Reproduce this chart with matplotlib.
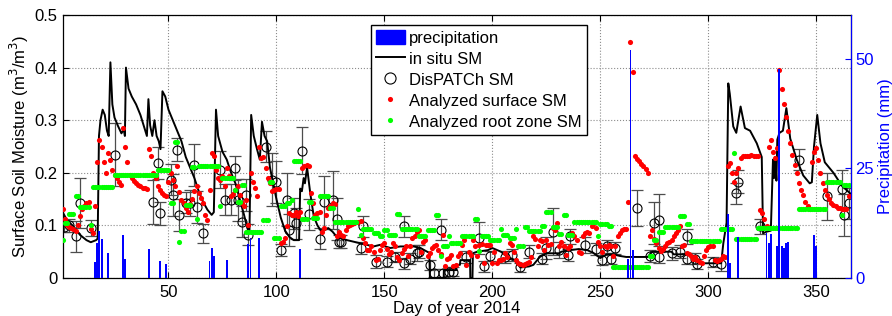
import numpy as np
import matplotlib
matplotlib.use('Agg')
import matplotlib.pyplot as plt
from matplotlib.patches import Patch
from matplotlib.lines import Line2D

plt.rcParams['font.family'] = ['Liberation Sans', 'DejaVu Sans']

# ---------------- data ----------------
days = np.arange(1, 366)

surface_sm = [
    0.131, 0.112, 0.100, 0.097, 0.095, 0.093, 0.090, 0.100, 0.118, 0.132,
    0.137, 0.142, 0.145, 0.094, 0.086, 0.136, 0.220, 0.263, 0.250, 0.220,
    0.200, 0.237, 0.225, 0.205, 0.196, 0.190, 0.183, 0.177, 0.285, 0.250,
    0.220, 0.196, 0.190, 0.185, 0.180, 0.177, 0.174, 0.172, 0.171, 0.170,
    0.245, 0.231, 0.200, 0.190, 0.174, 0.167, 0.162, 0.158, 0.155, 0.183,
    0.200, 0.187, 0.175, 0.212, 0.164, 0.149, 0.142, 0.133, 0.126, 0.140,
    0.150, 0.165, 0.174, 0.161, 0.152, 0.142, 0.120, 0.110, 0.168, 0.237,
    0.231, 0.206, 0.190, 0.187, 0.193, 0.174, 0.209, 0.193, 0.155, 0.160,
    0.168, 0.174, 0.158, 0.142, 0.136, 0.149, 0.100, 0.200, 0.183, 0.171,
    0.155, 0.250, 0.228, 0.230, 0.209, 0.190, 0.180, 0.165, 0.168, 0.169,
    0.170, 0.066, 0.069, 0.076, 0.098, 0.123, 0.120, 0.120, 0.126, 0.117,
    0.125, 0.209, 0.212, 0.215, 0.212, 0.161, 0.142, 0.120, 0.123, 0.126,
    0.088, 0.095, 0.120, 0.133, 0.137, 0.142, 0.140, 0.079, 0.088, 0.082,
    0.079, 0.091, 0.098, 0.100, 0.102, 0.104, 0.106, 0.107, 0.108, 0.076,
    0.066, 0.053, 0.053, 0.060, 0.050, 0.034, 0.037, 0.053, 0.063, 0.066,
    0.055, 0.045, 0.050, 0.066, 0.060, 0.040, 0.035, 0.048, 0.055, 0.060,
    0.041, 0.060, 0.076, 0.080, 0.088, 0.091, 0.050, 0.069, 0.072, 0.041,
    0.047, 0.057, 0.060, 0.063, 0.053, 0.045, 0.082, 0.022, 0.037, 0.038,
    0.044, 0.022, 0.024, 0.041, 0.047, 0.063, 0.072, 0.025, 0.050, 0.044,
    0.072, 0.060, 0.041, 0.063, 0.065, 0.028, 0.063, 0.062, 0.063, 0.028,
    0.050, 0.028, 0.035, 0.034, 0.037, 0.047, 0.040, 0.066, 0.063, 0.050,
    0.034, 0.028, 0.027, 0.025, 0.027, 0.028, 0.031, 0.040, 0.079, 0.075,
    0.060, 0.072, 0.070, 0.053, 0.072, 0.063, 0.065, 0.095, 0.091, 0.104,
    0.060, 0.069, 0.060, 0.044, 0.057, 0.060, 0.085, 0.079, 0.072, 0.050,
    0.048, 0.079, 0.085, 0.087, 0.085, 0.098, 0.104, 0.095, 0.069, 0.060,
    0.050, 0.060, 0.058, 0.063, 0.060, 0.041, 0.060, 0.079, 0.085, 0.091,
    0.093, 0.094, 0.145, 0.448, 0.391, 0.231, 0.226, 0.222, 0.217, 0.212,
    0.207, 0.200, 0.080, 0.091, 0.075, 0.066, 0.057, 0.052, 0.055, 0.060,
    0.066, 0.069, 0.072, 0.079, 0.085, 0.091, 0.098, 0.060, 0.063, 0.047,
    0.045, 0.041, 0.036, 0.040, 0.034, 0.030, 0.028, 0.041, 0.053, 0.058,
    0.060, 0.060, 0.034, 0.032, 0.034, 0.036, 0.041, 0.040, 0.212, 0.218,
    0.200, 0.183, 0.200, 0.209, 0.228, 0.231, 0.232, 0.232, 0.232, 0.233,
    0.232, 0.232, 0.231, 0.130, 0.123, 0.112, 0.098, 0.250, 0.263, 0.240,
    0.228, 0.247, 0.396, 0.360, 0.330, 0.307, 0.279, 0.256, 0.234, 0.215,
    0.200, 0.180, 0.168, 0.158, 0.145, 0.136, 0.132, 0.220, 0.240, 0.247,
    0.225, 0.200, 0.180, 0.168, 0.158, 0.150, 0.142, 0.139, 0.136, 0.134,
    0.133, 0.131, 0.131, 0.132, 0.155,
]

# root zone SM: constant over day ranges (start day, end day, value)
root_start = [1, 2, 4, 7, 9, 14, 15, 25, 45, 51,
              53, 55, 56, 58, 61, 63, 64, 74, 75, 81,
              82, 84, 86, 94, 97, 99, 102, 105, 107, 108,
              112, 115, 117, 120, 125, 127, 138, 139, 140, 145,
              148, 150, 152, 156, 158, 166, 170, 174, 176, 177,
              180, 181, 186, 192, 194, 195, 199, 204, 205, 208,
              211, 212, 215, 217, 223, 225, 228, 231, 233, 235,
              238, 249, 250, 254, 256, 273, 275, 277, 280, 287,
              290, 292, 306, 312, 313, 323, 342, 355, 362, 363]
root_end = [1, 3, 6, 8, 13, 14, 24, 44, 50, 52,
            54, 55, 57, 60, 62, 63, 73, 74, 80, 81,
            83, 85, 93, 96, 98, 101, 104, 106, 107, 111,
            114, 116, 119, 124, 126, 137, 138, 139, 144, 147,
            149, 151, 155, 157, 165, 169, 173, 175, 176, 179,
            180, 185, 191, 193, 194, 198, 203, 204, 207, 210,
            211, 214, 216, 222, 224, 227, 230, 232, 234, 237,
            248, 249, 253, 255, 272, 274, 276, 279, 286, 289,
            291, 305, 311, 312, 322, 341, 354, 361, 362, 365]
root_sm = [0.072, 0.105, 0.121, 0.155, 0.135, 0.100, 0.173, 0.195, 0.206, 0.143,
           0.258, 0.068, 0.090, 0.139, 0.211, 0.112, 0.212, 0.136, 0.190, 0.168,
           0.145, 0.177, 0.087, 0.110, 0.183, 0.076, 0.136, 0.142, 0.149, 0.222,
           0.112, 0.145, 0.114, 0.155, 0.133, 0.107, 0.131, 0.082, 0.093, 0.085,
           0.080, 0.091, 0.082, 0.121, 0.093, 0.080, 0.091, 0.120, 0.042, 0.060,
           0.080, 0.066, 0.080, 0.112, 0.052, 0.079, 0.072, 0.093, 0.082, 0.076,
           0.093, 0.060, 0.097, 0.090, 0.099, 0.126, 0.097, 0.084, 0.120, 0.082,
           0.106, 0.079, 0.103, 0.098, 0.021, 0.042, 0.072, 0.088, 0.097, 0.118,
           0.102, 0.071, 0.093, 0.238, 0.074, 0.095, 0.131, 0.183, 0.120, 0.177]

insitu_day = [1, 3, 6, 9, 12, 14, 16.5, 17.2, 17.8, 18.5,
              19.5, 20.5, 21.5, 22.3, 23.1, 24, 25, 26.5, 28.2, 29.3,
              29.8, 30.3, 31.5, 33, 35, 37, 38.5, 39.3, 40, 40.7,
              41.5, 42.5, 43.5, 44.5, 45.5, 46.3, 47.2, 48.5, 50, 52,
              54, 56, 58, 60, 62, 64, 66, 68, 70, 71,
              72, 73, 75, 77, 79, 81, 83, 85, 86.5, 87.5,
              88.3, 89.5, 91, 92.3, 93.3, 94.5, 95.7, 97, 98.5, 100,
              102, 104, 106, 108, 110.5, 111, 111.8, 112.6, 113.2, 114.2,
              115.7, 117.3, 119, 120.4, 122, 124, 126, 128, 132.7, 138.8,
              145, 148, 152.8, 157.4, 163.6, 166.7, 169.8, 170.8, 171.1, 177.5,
              177.6, 183.3, 183.5, 185, 185.2, 189.7, 189.8, 190.8, 191, 193,
              198, 200, 204, 207, 210, 212, 213, 217, 219, 221,
              222, 225, 231, 232, 236, 240, 244, 247, 250, 253,
              256, 259, 262, 266, 272, 274, 283, 284, 292, 294,
              297, 306, 307, 308.5, 309.3, 310, 311.6, 313, 315, 317,
              319.4, 322.5, 324.8, 325.4, 327, 329, 330, 330.5, 331, 331.6,
              332, 333, 334.6, 336.2, 338, 341, 344, 347, 348, 349,
              350.5, 352, 354, 358, 362, 366]
insitu_sm = [0.125, 0.11, 0.098, 0.082, 0.072, 0.068, 0.072, 0.075, 0.27, 0.30,
             0.32, 0.31, 0.28, 0.27, 0.41, 0.33, 0.305, 0.29, 0.275, 0.283,
             0.27, 0.40, 0.36, 0.345, 0.33, 0.31, 0.29, 0.28, 0.27, 0.34,
             0.29, 0.27, 0.30, 0.27, 0.26, 0.245, 0.355, 0.345, 0.32, 0.30,
             0.28, 0.26, 0.23, 0.21, 0.19, 0.165, 0.145, 0.13, 0.12, 0.125,
             0.32, 0.27, 0.24, 0.225, 0.2, 0.18, 0.15, 0.12, 0.095, 0.085,
             0.31, 0.27, 0.245, 0.225, 0.297, 0.27, 0.26, 0.21, 0.18, 0.15,
             0.115, 0.09, 0.078, 0.072, 0.072, 0.17, 0.165, 0.19, 0.18, 0.21,
             0.16, 0.117, 0.1, 0.091, 0.09, 0.095, 0.088, 0.078, 0.072, 0.066,
             0.06, 0.063, 0.057, 0.06, 0.06, 0.057, 0.05, 0.048, 0.0, 0.0,
             0.015, 0.015, 0.025, 0.025, 0.034, 0.034, 0.0, 0.0, 0.047, 0.05,
             0.053, 0.057, 0.05, 0.04, 0.035, 0.025, 0.02, 0.022, 0.025, 0.035,
             0.04, 0.047, 0.047, 0.05, 0.053, 0.055, 0.053, 0.047, 0.038, 0.045,
             0.045, 0.042, 0.04, 0.04, 0.04, 0.05, 0.05, 0.045, 0.045, 0.034,
             0.028, 0.028, 0.066, 0.105, 0.37, 0.35, 0.288, 0.276, 0.326, 0.285,
             0.28, 0.256, 0.23, 0.085, 0.088, 0.09, 0.225, 0.19, 0.23, 0.185,
             0.263, 0.276, 0.28, 0.323, 0.265, 0.225, 0.195, 0.18, 0.182, 0.25,
             0.31, 0.256, 0.22, 0.2, 0.175, 0.16]

dis_day = [1.5, 4, 7, 9, 14, 25, 43, 45, 46, 51,
           52, 54, 55, 58, 60, 62, 63, 66, 74, 76,
           79, 81, 82, 84, 86, 87, 95, 98, 100, 102,
           105, 106, 108, 109, 112, 115, 120, 122, 126, 128,
           129, 130, 139, 140, 146, 151, 155, 159, 159, 162,
           165, 166, 171, 173, 176, 177, 180, 182, 188, 194,
           196, 199, 206, 209, 213, 217, 223, 225, 228, 231,
           235, 236, 243, 248, 251, 253, 255, 257, 267, 273,
           275, 277, 277, 283, 287, 290, 290, 294, 295, 302,
           306, 313, 314, 324, 342, 355, 362, 363, 365]
dis_sm = [0.097, 0.100, 0.079, 0.143, 0.095, 0.234, 0.145, 0.219, 0.123, 0.187,
          0.158, 0.244, 0.120, 0.143, 0.143, 0.215, 0.135, 0.085, 0.206, 0.149,
          0.149, 0.209, 0.149, 0.107, 0.158, 0.082, 0.250, 0.187, 0.183, 0.053,
          0.149, 0.091, 0.123, 0.104, 0.242, 0.121, 0.075, 0.144, 0.149, 0.112,
          0.069, 0.069, 0.057, 0.098, 0.031, 0.031, 0.040, 0.098, 0.028, 0.037,
          0.047, 0.050, 0.025, 0.010, 0.092, 0.010, 0.012, 0.012, 0.040, 0.076,
          0.022, 0.042, 0.040, 0.044, 0.020, 0.050, 0.037, 0.057, 0.088, 0.053,
          0.044, 0.079, 0.063, 0.055, 0.034, 0.060, 0.037, 0.057, 0.133, 0.042,
          0.104, 0.110, 0.039, 0.047, 0.050, 0.079, 0.037, 0.037, 0.027, 0.030,
          0.026, 0.161, 0.183, 0.098, 0.225, 0.155, 0.170, 0.120, 0.142]
dis_err = [0.010, 0.012, 0.030, 0.048, 0.015, 0.060, 0.042, 0.030, 0.022, 0.030,
           0.040, 0.022, 0.030, 0.020, 0.025, 0.040, 0.030, 0.018, 0.035, 0.030,
           0.030, 0.022, 0.040, 0.030, 0.030, 0.020, 0.030, 0.050, 0.040, 0.012,
           0.050, 0.030, 0.030, 0.030, 0.045, 0.030, 0.020, 0.050, 0.055, 0.040,
           0.012, 0.012, 0.012, 0.020, 0.012, 0.010, 0.010, 0.020, 0.010, 0.010,
           0.015, 0.012, 0.010, 0.008, 0.020, 0.008, 0.008, 0.008, 0.012, 0.030,
           0.010, 0.010, 0.012, 0.012, 0.008, 0.012, 0.010, 0.020, 0.045, 0.015,
           0.012, 0.015, 0.015, 0.012, 0.010, 0.012, 0.010, 0.012, 0.035, 0.012,
           0.040, 0.050, 0.010, 0.012, 0.012, 0.015, 0.010, 0.010, 0.010, 0.010,
           0.012, 0.020, 0.022, 0.015, 0.020, 0.045, 0.035, 0.040, 0.030]

precip_day = [16, 17, 18, 19, 22, 29, 30, 41, 46, 49,
              69, 70, 71, 77, 87, 88, 92, 111, 263, 264,
              265, 309, 310, 314, 327, 328, 329, 332, 333, 334,
              335, 336, 337, 349, 350]
precip_mm = [3.7, 7.9, 10.7, 8.8, 5.8, 9.8, 4.3, 6.6, 3.9, 3.3,
             3.9, 6.8, 5.0, 4.1, 7.8, 9.1, 9.1, 6.6, 4.3, 52.0,
             6.4, 14.7, 3.4, 9.3, 10.2, 7.9, 10.1, 7.4, 47.7, 7.2,
             6.8, 7.9, 8.3, 9.8, 7.2]

x_ticks = [50, 100, 150, 200, 250, 300, 350]
y_ticks = [0, 0.1, 0.2, 0.3, 0.4, 0.5]
y_ticklabels = ['0', '0.1', '0.2', '0.3', '0.4', '0.5']
p_ticks = [0, 25, 50]

GREEN = (0, 1, 0)

# ---------------- figure ----------------
fig = plt.figure(figsize=(8.92, 3.16), dpi=100)
ax = fig.add_axes([62.7 / 892, 38 / 316, 788 / 892, 263 / 316])
ax.set_xlim(1, 366)
ax.set_ylim(0, 0.5)
ax.set_axisbelow(True)
ax.grid(True, ls=':', color='0.55', lw=0.8)

ax.plot(insitu_day, insitu_sm, color='k', lw=1.4, zorder=3)
ax.errorbar(dis_day, dis_sm, yerr=dis_err, fmt='none', ecolor='0.3',
            elinewidth=0.9, capsize=4, capthick=0.9, zorder=2)
ax.plot(dis_day, dis_sm, ls='none', marker='o', mfc='none', mec='k',
        ms=6.5, mew=0.8, zorder=4)
ax.plot(days, surface_sm, ls='none', marker='o', color='r', mec='none',
        ms=3.7, zorder=5)
for s, e, v in zip(root_start, root_end, root_sm):
    rd = np.arange(s, e + 1)
    ax.plot(rd, np.full(len(rd), v), ls='none', marker='o', color=GREEN,
            mec='none', ms=3.7, zorder=6)

ax.set_xticks(x_ticks)
ax.set_yticks(y_ticks)
ax.set_yticklabels(y_ticklabels)
ax.tick_params(direction='in', top=True, right=True, length=4,
               labelsize=12, width=0.8)
ax.tick_params(axis='x', pad=5)
ax.set_xlabel('Day of year 2014', fontsize=12, labelpad=1)
ax.set_ylabel('Surface Soil Moisture (m$^3$/m$^3$)', fontsize=12, labelpad=3)
for sp in ax.spines.values():
    sp.set_linewidth(0.9)

ax2 = ax.twinx()
ax2.bar(precip_day, precip_mm, width=0.9, color='b', linewidth=0)
ax2.set_ylim(0, 60)
ax2.set_yticks(p_ticks)
ax2.tick_params(direction='in', colors='b', length=4, labelsize=12, width=0.8)
ax2.set_ylabel('Precipitation (mm)', color='b', fontsize=12, labelpad=3)
ax2.spines['right'].set_color('b')
for k in ['left', 'top', 'bottom']:
    ax2.spines[k].set_visible(False)

handles = [Patch(facecolor='b', edgecolor='b'),
           Line2D([], [], color='k', lw=1.4),
           Line2D([], [], ls='none', marker='o', mfc='none', mec='k', ms=8, mew=0.8),
           Line2D([], [], ls='none', marker='o', color='r', mec='none', ms=3.7),
           Line2D([], [], ls='none', marker='o', color=GREEN, mec='none', ms=3.7)]
labels = ['precipitation', 'in situ SM', 'DisPATCh SM', 'Analyzed surface SM',
          'Analyzed root zone SM']
leg = ax2.legend(handles, labels, loc='upper left', bbox_to_anchor=(0.391, 0.962),
                 fontsize=12, frameon=True, fancybox=False, edgecolor='k',
                 framealpha=1, borderpad=0.3, labelspacing=0.32,
                 handlelength=1.75, handleheight=0.9, handletextpad=0.25,
                 borderaxespad=0)
leg.get_frame().set_linewidth(1.0)

fig.savefig('out.png', dpi=100)
